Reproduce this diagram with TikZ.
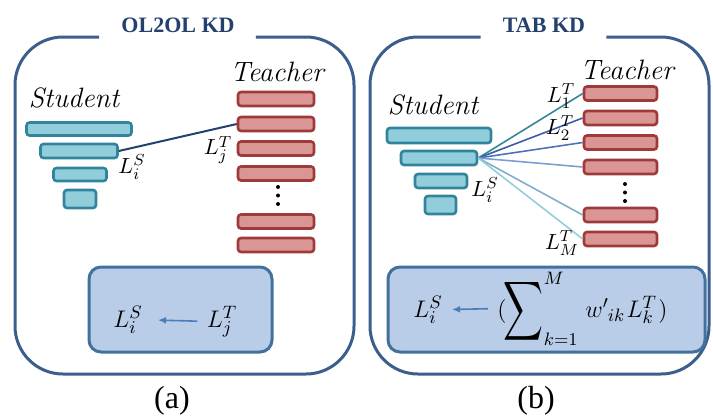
\documentclass[tikz,border=0pt]{standalone}
\usepackage{fontspec}
\usepackage{graphicx}
\usetikzlibrary{arrows.meta}
\newfontfamily\capfont{Liberation Serif}
\definecolor{stufill}{HTML}{92CDDC}
\definecolor{studraw}{HTML}{31849B}
\definecolor{teafill}{HTML}{D99694}
\definecolor{teadraw}{HTML}{A0393A}
\definecolor{boxfill}{HTML}{B9CCE8}
\definecolor{boxdraw}{HTML}{41719C}
\definecolor{panelc}{HTML}{3B5E8C}
\definecolor{titlec}{HTML}{24406E}
\definecolor{arrowc}{HTML}{4A7EBB}
\definecolor{linkA}{HTML}{34869A}
\definecolor{linkB}{HTML}{3D5EA6}
\definecolor{linkC}{HTML}{4E72B8}
\definecolor{linkD}{HTML}{7C9DD2}
\definecolor{linkE}{HTML}{80AECB}
\definecolor{linkF}{HTML}{92CEDA}
\begin{document}
\begin{tikzpicture}[x=0.5pt, y=-0.5pt,
    panel/.style = {draw=panelc, line width=1.5pt, rounded corners=24pt},
    lossbox/.style = {draw=boxdraw, fill=boxfill, line width=1.5pt, rounded corners=6pt},
    slayer/.style = {draw=studraw, fill=stufill, line width=1.3pt, rounded corners=1.5pt, inner sep=0pt},
    tlayer/.style = {draw=teadraw, fill=teafill, line width=1.3pt, rounded corners=1.5pt, inner sep=0pt, minimum height=7pt},
    kdtitle/.style = {text=titlec, inner sep=0pt, font=\capfont\bfseries\fontsize{11}{13}\selectfont},
    who/.style = {font=\fontsize{14}{16}\selectfont\itshape},
    lbl/.style = {font=\fontsize{11}{13}\selectfont, inner sep=0pt},
    bigmath/.style = {font=\fontsize{13}{15}\selectfont, inner sep=0pt},
    subcap/.style = {font=\capfont\fontsize{16}{18}\selectfont},
    kd/.style = {-{Latex[length=4pt, width=3.5pt]}, draw=arrowc, line width=0.8pt, shorten >=4.5pt, shorten <=4.5pt}]

    \useasboundingbox (0,0) rectangle (713,419);

    \node[kdtitle] (ttlA) at (178,25) {OL2OL KD};
    \node[kdtitle] (ttlB) at (544,25) {TAB KD};
    \coordinate (gapA1) at ([shift={(-22,12)}]ttlA.west);
    \coordinate (gapA2) at ([shift={(21,12)}]ttlA.east);
    \coordinate (gapB1) at ([shift={(-22,12)}]ttlB.west);
    \coordinate (gapB2) at ([shift={(21,12)}]ttlB.east);
    \draw[panel] (gapA1) -- (15,37) -- (15,374) -- (354,374) -- (354,37) -- (gapA2);
    \draw[panel] (gapB1) -- (370,37) -- (370,374) -- (709,374) -- (709,37) -- (gapB2);

    \node[who] (stuA) at (74,98) {Student};
    \node[who] (teaA) at (277,72) {Teacher};
    \node[slayer, minimum width=52.5pt, minimum height=6.5pt] (s1a) at (79,129) {};
    \node[slayer, minimum width=38.5pt, minimum height=7pt] (s2a) at (79,151) {};
    \node[slayer, minimum width=26.5pt, minimum height=6.5pt] (s3a) at (80,174.5) {};
    \node[slayer, minimum width=16pt, minimum height=9pt] (s4a) at (80,199) {};
    \node[tlayer, minimum width=38pt] (t1a) at (276,99) {};
    \node[tlayer, minimum width=38pt] (t2a) at (276,124) {};
    \node[tlayer, minimum width=38pt] (t3a) at (276,148.5) {};
    \node[tlayer, minimum width=38pt] (t4a) at (276,173.5) {};
    \node[tlayer, minimum width=38pt] (t5a) at (276,221.5) {};
    \node[tlayer, minimum width=38pt] (t6a) at (276,245) {};
    \fill (278,187) circle (1pt) (278,195.5) circle (1pt) (278,204) circle (1pt);
    \draw[draw=titlec, line width=1pt] (s2a.east) -- (t2a.west);
    \node[lbl] (liA) at (132,167) {$L_i^S$};
    \node[lbl] (ljA) at (218,150) {$L_j^T$};

    \draw[lossbox] (89,267) rectangle (272,352);
    \node[bigmath, anchor=base] (lsA) at (128,327) {$L_i^S$};
    \node[bigmath, anchor=base] (rsA) at (222,327) {$L_j^T$};
    \draw[kd, shorten >=7.5pt] (rsA.west) -- (lsA.east);

    \node[who] (stuB) at (433,104.5) {Student};
    \node[who] (teaB) at (627,69.5) {Teacher};
    \node[slayer, minimum width=52pt, minimum height=7.5pt] (s1b) at (439,135.5) {};
    \node[slayer, minimum width=38pt, minimum height=7pt] (s2b) at (439,158) {};
    \node[slayer, minimum width=26pt, minimum height=7pt] (s3b) at (441,181) {};
    \node[slayer, minimum width=15.5pt, minimum height=9pt] (s4b) at (440.5,205) {};
    \node[tlayer, minimum width=36.5pt] (t1b) at (620.5,93.5) {};
    \node[tlayer, minimum width=36.5pt] (t2b) at (620.5,118) {};
    \node[tlayer, minimum width=36.5pt] (t3b) at (620.5,142.5) {};
    \node[tlayer, minimum width=36.5pt] (t4b) at (620.5,167) {};
    \node[tlayer, minimum width=36.5pt] (t5b) at (620.5,215) {};
    \node[tlayer, minimum width=36.5pt] (t6b) at (620.5,239) {};
    \fill (625,184) circle (1pt) (625,192.5) circle (1pt) (625,201) circle (1pt);
    \draw[draw=linkA, line width=0.8pt] (s2b.east) -- (t1b.west);
    \draw[draw=linkB, line width=0.8pt] (s2b.east) -- (t2b.west);
    \draw[draw=linkC, line width=0.8pt] (s2b.east) -- (t3b.west);
    \draw[draw=linkD, line width=0.8pt] (s2b.east) -- (t4b.west);
    \draw[draw=linkE, line width=0.8pt] (s2b.east) -- (t5b.west);
    \draw[draw=linkF, line width=0.8pt] (s2b.east) -- (t6b.west);
    \node[lbl] (l1B) at (561,96) {$L_1^T$};
    \node[lbl] (l2B) at (560,128) {$L_2^T$};
    \node[lbl] (liB) at (485,190) {$L_i^S$};
    \node[lbl] (lmB) at (562,243) {$L_M^T$};

    \draw[lossbox] (388,267) rectangle (705,352);
    \node[bigmath, anchor=base] (lsB) at (428,317) {$L_i^S$};
    \node[bigmath, anchor=base west] (rsB) at (497,317) {$(\mkern-2mu\mathop{\vcenter{\hbox{\resizebox*{20pt}{33pt}{$\displaystyle\sum$}}}}\nolimits_{k=1}^{M}\mkern2mu w'{}_{\mkern-1mu ik}\mkern1mu L_k^T\mkern1mu)$};
    \draw[kd] (rsB.west) -- (lsB.east);

    \node[subcap] (capA) at (172,401) {(a)};
    \node[subcap] (capB) at (536,401) {(b)};
\end{tikzpicture}
\end{document}
